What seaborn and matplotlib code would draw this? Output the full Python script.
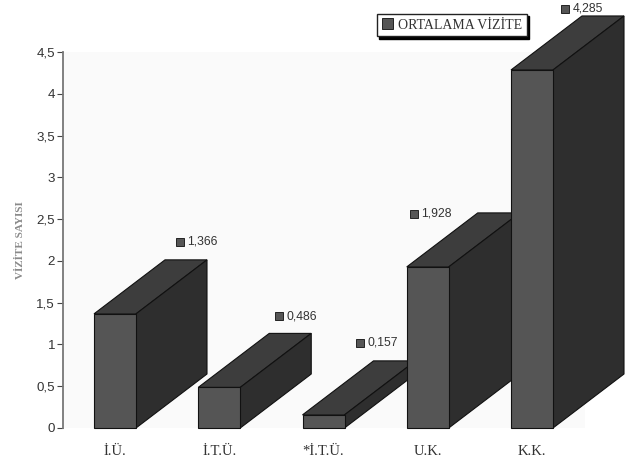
import matplotlib
matplotlib.use("Agg")
import matplotlib.pyplot as plt
from matplotlib.patches import Patch
from matplotlib.transforms import Affine2D
import seaborn as sns
import pandas as pd

categories = ["İ.Ü.", "İ.T.Ü.", "*İ.T.Ü.", "U.K.", "K.K."]
values = [1.366, 0.486, 0.157, 1.928, 4.285]
value_labels = ["1,366", "0,486", "0,157", "1,928", "4,285"]
y_ticks = [0, 0.5, 1, 1.5, 2, 2.5, 3, 3.5, 4, 4.5]
y_tick_labels = ["0", "0,5", "1", "1,5", "2", "2,5", "3", "3,5", "4", "4,5"]
series_name = "ORTALAMA VİZİTE"
y_title = "VİZİTE SAYISI"
# label offsets from each bar's top centre, in pixels
label_offsets = [(65, 73), (60, 72), (36, 73), (-14, 54), (33, 62)]

W, H = 633, 459
sns.set_style("white")
plt.rcParams["font.family"] = ["Liberation Sans", "DejaVu Sans"]
fig = plt.figure(figsize=(W / 100, H / 100), dpi=100, facecolor="white")

left, right, top, bottom = 63, 585, 52, 428
ax = fig.add_axes([left / W, 1 - bottom / H, (right - left) / W, (bottom - top) / H])
ax.set_facecolor("#fafafa")

df = pd.DataFrame({"cat": categories, "val": values})
step = 104.25
bar_w = 42 / step
sns.barplot(data=df, x="cat", y="val", ax=ax, width=bar_w, color="#555555",
            saturation=1, edgecolor="#111111", linewidth=0.8, errorbar=None)
ax.set_xlim(-(115 - left) / step, (right - 115) / step)
ax.set_ylim(0, 4.5)

dx = 71 / step
dy = 54 / ((bottom - top) / 4.5)
ptx = 72 / 100
for i, bar in enumerate(ax.patches):
    z = 3 + i * 0.1
    bar.set_zorder(z + 0.02)
    bar.set_clip_on(False)
    x0, x1 = bar.get_x(), bar.get_x() + bar.get_width()
    h = bar.get_height()
    ax.fill([x0, x1, x1 + dx, x0 + dx], [h, h, h + dy, h + dy], facecolor="#3d3d3d",
            edgecolor="#111111", linewidth=0.8, clip_on=False, zorder=z)
    ax.fill([x1, x1 + dx, x1 + dx, x1], [0, dy, h + dy, h], facecolor="#2e2e2e",
            edgecolor="#111111", linewidth=0.8, clip_on=False, zorder=z + 0.01)
    ox, oy = label_offsets[i]
    ax.plot([i], [h], marker="s", ms=6, mfc="#555555", mec="#222222", mew=0.7, ls="none",
            clip_on=False, zorder=10,
            transform=ax.transData + Affine2D().translate(ox, oy - 1))
    ax.annotate(value_labels[i], xy=(i, h), xytext=((ox + 7.5) * ptx, (oy - 1) * ptx),
                textcoords="offset points", fontsize=8.8, color="#333333",
                va="center", ha="left", annotation_clip=False, zorder=10)

sns.despine(ax=ax, top=True, right=True, bottom=True)
ax.spines["left"].set_color("#777777")
ax.spines["left"].set_linewidth(1.3)
ax.spines["left"].set_zorder(20)

ax.set_yticks(y_ticks, y_tick_labels)
ax.tick_params(axis="y", direction="out", length=4.5, width=0.8, color="#444444", left=True,
               labelsize=9.6, labelcolor="#333333", pad=1.2)
ax.set_xticks(range(len(categories)), categories, family="Liberation Serif")
ax.tick_params(axis="x", length=0, labelsize=10.5, labelcolor="#333333", pad=12)
ax.set_xlabel("")
ax.set_ylabel("")
fig.text(21 / W, 1 - 240 / H, y_title, rotation=90, family="Liberation Serif", fontsize=8,
         fontweight="bold", color="#8a8a8a", ha="center", va="center")

leg = ax.legend(handles=[Patch(facecolor="#555555", edgecolor="#222222", linewidth=0.7, label=series_name)],
                loc="center", bbox_to_anchor=(452 / W, 1 - 25 / H), bbox_transform=fig.transFigure,
                frameon=True, fancybox=False, shadow={"ox": 1.5, "oy": -1.5, "color": "black", "alpha": 1},
                edgecolor="#222222", facecolor="white", framealpha=1,
                prop={"family": "Liberation Serif", "size": 10},
                handlelength=0.8, handleheight=0.8, handletextpad=0.4,
                borderpad=0.35, borderaxespad=0)
for t in leg.get_texts():
    t.set_color("#333333")
leg.set_zorder(30)

fig.savefig("out.png", dpi=100, facecolor="white")
